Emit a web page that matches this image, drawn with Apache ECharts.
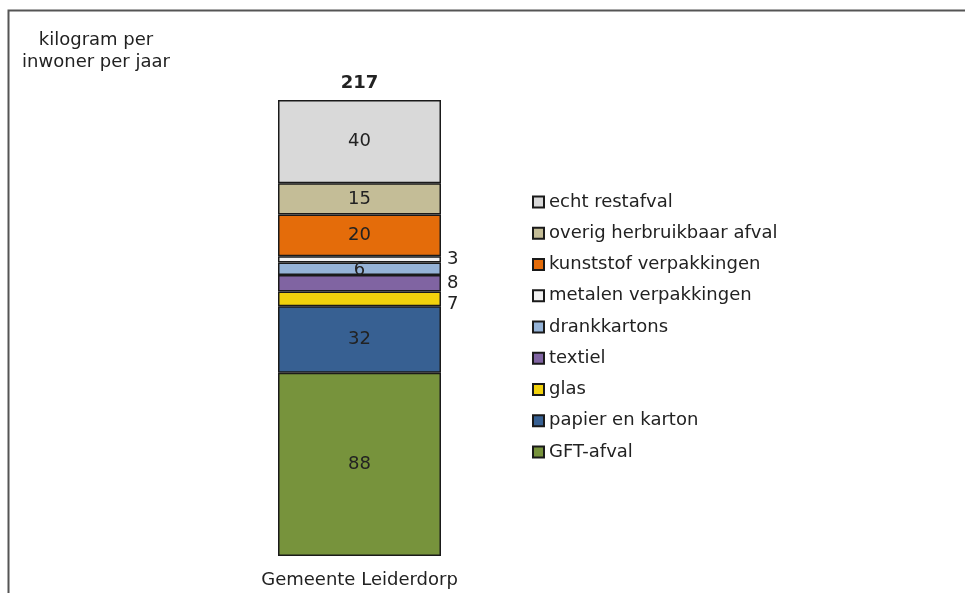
<!DOCTYPE html>
<html>
<head>
<meta charset="utf-8">
<script src="https://cdn.jsdelivr.net/npm/echarts@6/dist/echarts.min.js"></script>
<style>html,body{margin:0;padding:0;background:#fff}#c{width:965px;height:593px}</style>
</head>
<body>
<div id="c"></div>
<script>
// Data
var categories = ['Gemeente Leiderdorp'];
var seriesNames = ['GFT-afval', 'papier en karton', 'glas', 'textiel', 'drankkartons',
  'metalen verpakkingen', 'kunststof verpakkingen', 'overig herbruikbaar afval', 'echt restafval'];
var gftAfval = [88];
var papierEnKarton = [32];
var glas = [7];
var textiel = [8];
var drankkartons = [6];
var metalenVerpakkingen = [3];
var kunststofVerpakkingen = [20];
var overigHerbruikbaar = [15];
var echtRestafval = [40];
var totals = [217];
var yTitle = 'kilogram per\ninwoner per jaar';

var values = [gftAfval, papierEnKarton, glas, textiel, drankkartons,
  metalenVerpakkingen, kunststofVerpakkingen, overigHerbruikbaar, echtRestafval];
var colors = ['#77933c', '#376092', '#f2d20c', '#8064a2', '#95b3d7',
  '#f2f2f2', '#e46c0a', '#c4bd97', '#d9d9d9'];
var outsideLabel = {2: true, 3: true, 5: true};

var FONT = 'DejaVu Sans';
var stackSum = 0;
values.forEach(function (v) { stackSum += v[0]; });

var series = values.map(function (v, i) {
  var lab = {
    show: true, fontFamily: FONT, fontSize: 18, color: '#222',
    position: outsideLabel[i] ? 'right' : 'inside', distance: 6
  };
  if (i === 2) lab.offset = [0, 5];
  if (i === 4) lab.offset = [0, 2];
  return {
    name: seriesNames[i], type: 'bar', stack: 'total', barWidth: '100%',
    data: v,
    itemStyle: { color: colors[i], borderColor: '#1a1a1a', borderWidth: 1.5 },
    label: lab,
    emphasis: { disabled: true }
  };
});
series.push({
  name: 'totaal', type: 'bar', stack: 'total', barWidth: '100%',
  data: totals.map(function () { return 0; }),
  itemStyle: { color: 'transparent', borderWidth: 0 },
  label: {
    show: true, position: 'top', distance: 8, fontFamily: FONT, fontSize: 18,
    fontWeight: 'bold', color: '#222',
    formatter: function (p) { return String(totals[p.dataIndex]); }
  }
});

var chart = echarts.init(document.getElementById('c'), null, { renderer: 'canvas' });
chart.setOption({
  animation: false,
  backgroundColor: '#fff',
  title: {
    text: yTitle, left: 91, top: 24, textAlign: 'center',
    textStyle: { fontFamily: FONT, fontSize: 18, fontWeight: 'normal', color: '#222', lineHeight: 22 }
  },
  graphic: [{
    type: 'rect', left: 6, top: 8, shape: { width: 1000, height: 700 },
    style: { fill: 'none', stroke: '#555', lineWidth: 2 }, silent: true, z: -1
  }],
  legend: {
    orient: 'vertical', left: 527, top: 187,
    itemWidth: 11, itemHeight: 11, itemGap: 11.25, icon: 'rect',
    data: seriesNames.slice().reverse(),
    textStyle: { fontFamily: FONT, fontSize: 18, color: '#222', lineHeight: 20 }
  },
  grid: { left: 278, width: 163, top: 100, height: 456 },
  xAxis: {
    type: 'category', data: categories,
    axisLine: { show: false }, axisTick: { show: false },
    axisLabel: { fontFamily: FONT, fontSize: 18, color: '#222', margin: 15 }
  },
  yAxis: { type: 'value', min: 0, max: stackSum, show: false, splitLine: { show: false } },
  series: series
});
</script>
</body>
</html>
